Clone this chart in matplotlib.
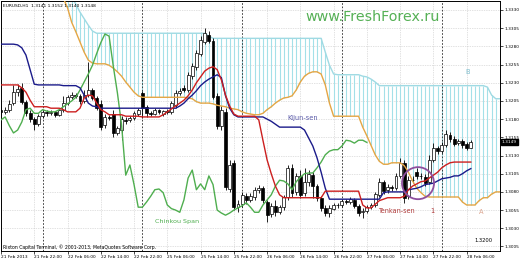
import numpy as np
import matplotlib.pyplot as plt
from matplotlib.patches import Ellipse

# EURUSD H1, 21-28 Feb 2013, Ichimoku Kinko Hyo
opens = [1.3193, 1.3190, 1.3193, 1.3202, 1.3217, 1.3223, 1.3204, 1.3188, 1.3180, 1.3173,
         1.3184, 1.3190, 1.3188, 1.3190, 1.3186, 1.3193, 1.3202, 1.3210, 1.3213, 1.3212,
         1.3205, 1.3213, 1.3220, 1.3209, 1.3201, 1.3172, 1.3183, 1.3187, 1.3161, 1.3165,
         1.3179, 1.3179, 1.3182, 1.3187, 1.3216, 1.3197, 1.3188, 1.3187, 1.3193, 1.3187,
         1.3191, 1.3190, 1.3199, 1.3216, 1.3223, 1.3220, 1.3239, 1.3252, 1.3270, 1.3286,
         1.3296, 1.3287, 1.3212, 1.3171, 1.3190, 1.3084, 1.3120, 1.3059, 1.3063, 1.3074,
         1.3069, 1.3073, 1.3083, 1.3085, 1.3066, 1.3050, 1.3061, 1.3052, 1.3059, 1.3073,
         1.3113, 1.3080, 1.3102, 1.3079, 1.3094, 1.3103, 1.3088, 1.3072, 1.3058, 1.3051,
         1.3057, 1.3062, 1.3062, 1.3068, 1.3066, 1.3069, 1.3061, 1.3052, 1.3054, 1.3059,
         1.3062, 1.3076, 1.3094, 1.3083, 1.3087, 1.3085, 1.3102, 1.3120, 1.3074, 1.3096,
         1.3107, 1.3102, 1.3100, 1.3094, 1.3124, 1.3140, 1.3136, 1.3144, 1.3158, 1.3153,
         1.3147, 1.3150, 1.3146, 1.3141]
highs = [1.3198, 1.3197, 1.3206, 1.3227, 1.3228, 1.3230, 1.3206, 1.3193, 1.3183, 1.3187,
         1.3193, 1.3193, 1.3193, 1.3191, 1.3195, 1.3212, 1.3213, 1.3217, 1.3216, 1.3215,
         1.3220, 1.3259, 1.3223, 1.3212, 1.3206, 1.3187, 1.3186, 1.3193, 1.3171, 1.3184,
         1.3183, 1.3184, 1.3191, 1.3195, 1.3219, 1.3199, 1.3191, 1.3195, 1.3194, 1.3193,
         1.3194, 1.3205, 1.3220, 1.3223, 1.3227, 1.3245, 1.3257, 1.3275, 1.3294, 1.3305,
         1.3301, 1.3291, 1.3216, 1.3198, 1.3195, 1.3124, 1.3124, 1.3069, 1.3080, 1.3079,
         1.3079, 1.3087, 1.3090, 1.3088, 1.3069, 1.3065, 1.3069, 1.3062, 1.3076, 1.3117,
         1.3118, 1.3106, 1.3110, 1.3113, 1.3110, 1.3107, 1.3091, 1.3074, 1.3062, 1.3062,
         1.3065, 1.3065, 1.3070, 1.3070, 1.3073, 1.3072, 1.3063, 1.3058, 1.3062, 1.3065,
         1.3080, 1.3099, 1.3096, 1.3091, 1.3090, 1.3106, 1.3127, 1.3124, 1.3102, 1.3102,
         1.3113, 1.3106, 1.3105, 1.3131, 1.3147, 1.3143, 1.3149, 1.3165, 1.3162, 1.3157,
         1.3153, 1.3153, 1.3149, 1.3152]
lows = [1.3186, 1.3187, 1.3190, 1.3199, 1.3212, 1.3201, 1.3184, 1.3176, 1.3165, 1.3171,
        1.3182, 1.3184, 1.3186, 1.3183, 1.3184, 1.3190, 1.3199, 1.3208, 1.3209, 1.3201,
        1.3202, 1.3210, 1.3206, 1.3193, 1.3165, 1.3168, 1.3179, 1.3155, 1.3158, 1.3151,
        1.3173, 1.3176, 1.3179, 1.3184, 1.3182, 1.3183, 1.3184, 1.3186, 1.3187, 1.3184,
        1.3187, 1.3187, 1.3195, 1.3213, 1.3217, 1.3217, 1.3235, 1.3248, 1.3267, 1.3283,
        1.3285, 1.3208, 1.3166, 1.3165, 1.3083, 1.3080, 1.3055, 1.3052, 1.3059, 1.3063,
        1.3066, 1.3069, 1.3079, 1.3065, 1.3039, 1.3046, 1.3047, 1.3050, 1.3055, 1.3069,
        1.3073, 1.3076, 1.3072, 1.3074, 1.3088, 1.3072, 1.3068, 1.3054, 1.3047, 1.3046,
        1.3055, 1.3058, 1.3059, 1.3063, 1.3063, 1.3058, 1.3047, 1.3044, 1.3051, 1.3057,
        1.3059, 1.3073, 1.3077, 1.3079, 1.3081, 1.3083, 1.3099, 1.3065, 1.3070, 1.3092,
        1.3098, 1.3098, 1.3088, 1.3091, 1.3121, 1.3132, 1.3133, 1.3142, 1.3149, 1.3143,
        1.3144, 1.3140, 1.3138, 1.3140]
closes = [1.3190, 1.3193, 1.3201, 1.3217, 1.3221, 1.3204, 1.3188, 1.3180, 1.3173, 1.3184,
          1.3190, 1.3188, 1.3190, 1.3186, 1.3193, 1.3202, 1.3210, 1.3213, 1.3212, 1.3205,
          1.3213, 1.3220, 1.3209, 1.3195, 1.3169, 1.3183, 1.3182, 1.3161, 1.3168, 1.3180,
          1.3177, 1.3182, 1.3188, 1.3193, 1.3195, 1.3188, 1.3187, 1.3193, 1.3190, 1.3191,
          1.3190, 1.3202, 1.3216, 1.3219, 1.3220, 1.3241, 1.3253, 1.3271, 1.3289, 1.3298,
          1.3287, 1.3210, 1.3171, 1.3193, 1.3087, 1.3117, 1.3059, 1.3063, 1.3076, 1.3069,
          1.3074, 1.3083, 1.3085, 1.3069, 1.3048, 1.3061, 1.3052, 1.3059, 1.3073, 1.3113,
          1.3079, 1.3102, 1.3076, 1.3094, 1.3105, 1.3088, 1.3072, 1.3058, 1.3051, 1.3058,
          1.3062, 1.3062, 1.3068, 1.3066, 1.3070, 1.3061, 1.3051, 1.3054, 1.3059, 1.3062,
          1.3077, 1.3094, 1.3081, 1.3087, 1.3085, 1.3102, 1.3120, 1.3072, 1.3096, 1.3096,
          1.3102, 1.3102, 1.3092, 1.3124, 1.3140, 1.3136, 1.3144, 1.3160, 1.3153, 1.3146,
          1.3150, 1.3144, 1.3140, 1.3148]

tenkan = ([1.3227] * 5 + [1.3223, 1.3217, 1.3206] + [1.3197] * 4 + [1.3195] * 3 + [1.3193]
          + [1.3190] * 3 + [1.3195, 1.3209, 1.3213, 1.3212, 1.3202, 1.3193, 1.3190]
          + [1.3186] * 4 + [1.3184] * 4 + [1.3183] * 5
          + [1.3186, 1.3190, 1.3194, 1.3198, 1.3202, 1.3206, 1.3212, 1.3220, 1.3230, 1.3238, 1.3246,
             1.3250, 1.3252, 1.3248, 1.3234, 1.3213, 1.3198, 1.3187]
          + [1.3184] * 5 + [1.3179, 1.3151, 1.3124, 1.3105, 1.3088, 1.3076]
          + [1.3072] * 10 + [1.3081] * 9 + [1.3062, 1.3058, 1.3058, 1.3063, 1.3068, 1.3070]
          + [1.3072] * 4 + [1.3074, 1.3083, 1.3088, 1.3091, 1.3094, 1.3095,
                            1.3099, 1.3103, 1.3107, 1.3113, 1.3117, 1.3120] + [1.3121] * 5)
kijun = ([1.3283] * 4 + [1.3282, 1.3278, 1.3268, 1.3248, 1.3228] + [1.3227] * 6 + [1.3226] * 4
         + [1.3223, 1.3213, 1.3202, 1.3198, 1.3197] + [1.3195] * 19
         + [1.3198, 1.3202, 1.3208, 1.3213, 1.3219, 1.3226, 1.3231, 1.3235, 1.3238, 1.3241,
            1.3237, 1.3212, 1.3195, 1.3186] + [1.3183] * 7 + [1.3180, 1.3177, 1.3173]
         + [1.3169] * 6 + [1.3165, 1.3154, 1.3143, 1.3127, 1.3107, 1.3085] + [1.3070] * 13
         + [1.3079] + [1.3080] * 5 + [1.3083, 1.3084, 1.3085, 1.3087, 1.3090, 1.3091, 1.3092,
                                        1.3095, 1.3098, 1.3099, 1.3100, 1.3102, 1.3102,
                                        1.3105, 1.3109, 1.3112])

# senkou spans start at bar 15 and run past the right edge
cloud_start = 15
span_a = ([1.3346, 1.3333, 1.3313, 1.3300, 1.3286, 1.3272, 1.3261, 1.3257] + [1.3256] * 3
          + [1.3254, 1.3250, 1.3245, 1.3239, 1.3231, 1.3224, 1.3217, 1.3212] + [1.3210] * 11
          + [1.3209, 1.3208, 1.3204] + [1.3202] * 3
          + [1.3201, 1.3199, 1.3198, 1.3197, 1.3195, 1.3194, 1.3193, 1.3190, 1.3188, 1.3187]
          + [1.3186] * 2 + [1.3188, 1.3193, 1.3197, 1.3202, 1.3206, 1.3209, 1.3210, 1.3212,
                            1.3220, 1.3231, 1.3239, 1.3243] + [1.3245] * 2
          + [1.3242, 1.3227, 1.3202] + [1.3184] * 7 + [1.3169, 1.3157, 1.3144, 1.3131, 1.3122]
          + [1.3118] * 2 + [1.3120] * 3 + [1.3116, 1.3107, 1.3095, 1.3085, 1.3079, 1.3074]
          + [1.3073] * 8 + [1.3066] + [1.3062] * 3 + [1.3068] + [1.3072] * 2 + [1.3077]
          + [1.3080] * 2)
span_b = ([1.3366, 1.3357, 1.3348, 1.3338, 1.3327, 1.3318, 1.3309, 1.3301] + [1.3298] * 27
          + [1.3294] + [1.3291] * 27 + [1.3272, 1.3254, 1.3242] + [1.3241] * 6
          + [1.3239, 1.3238, 1.3235, 1.3231] + [1.3226] * 26 + [1.3224, 1.3213] + [1.3208] * 2)

# chikou span, from bar 0 to bar 88
chikou = [1.3179, 1.3183, 1.3171, 1.3161, 1.3165, 1.3176, 1.3193, 1.3195, 1.3188, 1.3188,
          1.3193, 1.3191, 1.3190, 1.3190, 1.3193, 1.3197, 1.3201, 1.3205, 1.3210, 1.3220,
          1.3231, 1.3242, 1.3254, 1.3270, 1.3285, 1.3297, 1.3294, 1.3253, 1.3216, 1.3172,
          1.3103, 1.3117, 1.3090, 1.3059, 1.3059, 1.3066, 1.3074, 1.3083, 1.3084, 1.3079,
          1.3062, 1.3057, 1.3055, 1.3052, 1.3069, 1.3099, 1.3110, 1.3083, 1.3091, 1.3083,
          1.3102, 1.3090, 1.3055, 1.3051, 1.3048, 1.3051, 1.3055, 1.3058, 1.3061, 1.3065,
          1.3059, 1.3052, 1.3052, 1.3062, 1.3069, 1.3076, 1.3088, 1.3096, 1.3095, 1.3091,
          1.3083, 1.3094, 1.3100, 1.3105, 1.3106, 1.3106, 1.3113, 1.3121, 1.3131, 1.3136,
          1.3138, 1.3138, 1.3143, 1.3151, 1.3150, 1.3147, 1.3151, 1.3151, 1.3148]

tick_bars = [0, 8, 16, 24, 32, 40, 48, 56, 64, 72, 80, 88, 96, 104, 112]
tick_labels = ["21 Feb 2013", "21 Feb 22:00", "22 Feb 06:00", "22 Feb 14:00", "22 Feb 22:00",
               "25 Feb 06:00", "25 Feb 14:00", "25 Feb 22:00", "26 Feb 06:00", "26 Feb 14:00",
               "26 Feb 22:00", "27 Feb 06:00", "27 Feb 14:00", "27 Feb 22:00", "28 Feb 06:00"]
day_bars = [10, 34, 58, 82, 106]
price_ticks = [1.3005, 1.3030, 1.3055, 1.3080, 1.3105, 1.3130, 1.3155,
               1.3180, 1.3205, 1.3230, 1.3255, 1.3280, 1.3305, 1.3330]
bid = 1.3149

o = np.array(opens)
h = np.array(highs)
l = np.array(lows)
c = np.array(closes)
bars = np.arange(len(c))
up = c >= o

fig = plt.figure(figsize=(5.2, 2.6), dpi=100)
ax = fig.add_axes([1 / 520, 9 / 260, 499 / 520, 250 / 260])
ax.set_xlim(0.07, 120.02)
ax.set_ylim(1.29988, 1.33423)

# kumo: vertical hatching between the two spans
cx = np.arange(cloud_start, cloud_start + len(span_a))
ax.vlines(cx, span_a, span_b, color="#a4e0e8", lw=0.8, zorder=1)
ax.plot(cx, span_b, color="#9fdae3", lw=1.0, zorder=2)

for b in day_bars:
    ax.axvline(b, color="#222222", ls=(0, (2, 2)), lw=0.6, zorder=1.5)

# candles
body = np.maximum(np.abs(c - o), 0.00003)
bottom = np.minimum(o, c)
ax.vlines(bars, l, h, color="black", lw=0.6, zorder=3)
ax.bar(bars[up], body[up], bottom=bottom[up], width=0.7, color="white",
       edgecolor="black", lw=0.5, zorder=3)
ax.bar(bars[~up], body[~up], bottom=bottom[~up], width=0.7, color="black",
       edgecolor="black", lw=0.5, zorder=3)

ax.plot(cx, span_a, color="#e4a644", lw=1.0, zorder=4)
ax.plot(np.arange(len(chikou)), chikou, color="#4fae4f", lw=1.0, zorder=4)
ax.plot(bars, kijun, color="#1b1b8a", lw=1.0, zorder=5)
ax.plot(bars, tenkan, color="#cc1f1f", lw=1.0, zorder=5)

ax.add_patch(Ellipse((100.3, 1.3092), 7.7, 0.0044, fill=False,
                     edgecolor="#8e4f9e", lw=1.3, zorder=6))

# axes, ticks and grid
ax.set_xticks(tick_bars)
ax.set_xticklabels(tick_labels, fontsize=3.1, ha="left")
ax.set_yticks(price_ticks)
ax.set_yticklabels(["%.4f" % p for p in price_ticks], fontsize=3.1)
ax.yaxis.tick_right()
ax.tick_params(axis="both", length=2, width=0.5, pad=1)
ax.grid(True, color="#c4c4c4", ls=(0, (1, 1.5)), lw=0.5)
ax.set_axisbelow(True)
for s in ax.spines.values():
    s.set_linewidth(0.7)
    s.set_color("black")

ax.text(1.004, bid, "%.4f" % bid, transform=ax.get_yaxis_transform(), fontsize=3.1,
        color="white", va="center", ha="left",
        bbox=dict(facecolor="black", edgecolor="black", pad=0.8))


def px(x, y):
    return x / 520, 1 - y / 260


fig.text(*px(3, 6), "EURUSD,H1  1.3141 1.3152 1.3140 1.3148", fontsize=3.2, va="center")
fig.text(*px(305, 17), "www.FreshForex.ru", fontsize=10.3, color="#55b055", va="center")
fig.text(*px(465, 72), "B", fontsize=4.8, color="#7cbccc", va="center")
fig.text(*px(287, 118), "Kijun-sen", fontsize=4.8, color="#5a5aa8", va="center")
fig.text(*px(155, 222), "Chinkou Span", fontsize=4.6, color="#4fae4f", va="center")
fig.text(*px(378, 211), "Tenkan-sen", fontsize=4.7, color="#b03a3a", va="center")
fig.text(*px(430, 211), "1", fontsize=4.8, color="#b03a3a", va="center")
fig.text(*px(479, 212), "A", fontsize=4.8, color="#dba58f", va="center")
fig.text(*px(474, 240), "1.3200", fontsize=3.7, va="center")
fig.text(*px(3, 247), "Rixton Capital Terminal, \u00a9 2001-2013, MetaQuotes Software Corp.",
         fontsize=3.3, va="center")

fig.savefig("out.png", dpi=100)
